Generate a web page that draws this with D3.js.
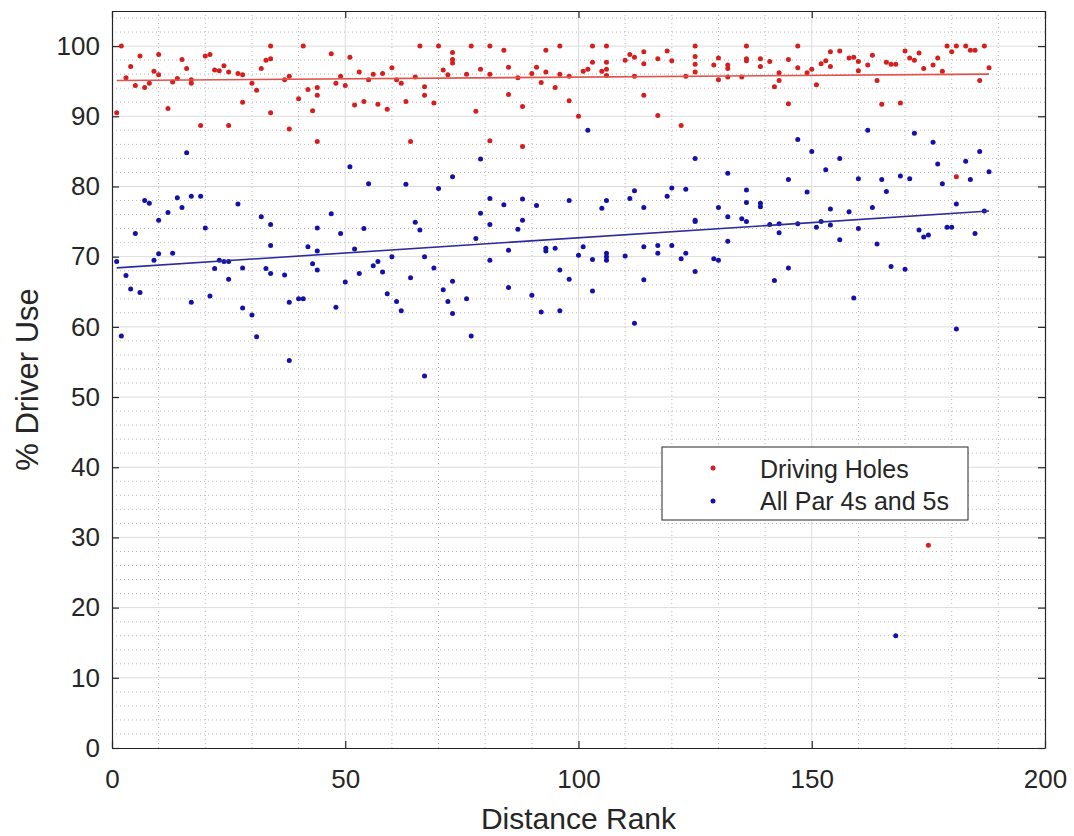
<!DOCTYPE html>
<html>
<head>
<meta charset="utf-8">
<script src="https://cdn.jsdelivr.net/npm/d3@7"></script>
<style>
  body { margin: 0; background: #fff; }
  text { font-family: "Liberation Sans", Arial, Helvetica, sans-serif; }
</style>
</head>
<body>
<div id="chart"></div>
<script>
// Driving holes: [rank, % driver use]
const drivingHoles = [
  [1,90.5],[2,100],[3,95.5],[4,97.1],[5,94.4],[6,98.6],[7,94.1],[8,94.7],[9,96.4],[10,98.8],[10,95.9],
  [12,91.1],[13,94.9],[14,95.4],[15,98.1],[16,96.8],[17,95.2],[17,94.7],[19,88.7],[20,98.6],[21,98.8],
  [22,96.6],[23,96.5],[24,97.2],[25,88.7],[25,96.3],[27,96.1],[28,95.9],[28,92.0],[30,94.7],[31,93.7],
  [32,96.8],[33,98.0],[34,98.2],[34,100],[34,90.5],[37,95.2],[38,95.7],[38,88.2],[40,92.5],[41,100],
  [42,93.8],[43,90.8],[44,94.1],[44,93.0],[44,86.4],[47,98.9],[48,94.7],[49,95.7],[50,94.4],[51,98.4],
  [52,91.6],[53,96.3],[54,92.1],[55,95.2],[56,96.0],[57,91.7],[58,96.1],[59,91.0],[60,96.9],[61,95.2],
  [62,94.7],[63,92.1],[64,86.4],[65,95.6],[66,100],[67,94.2],[67,93.0],[69,91.9],[70,100],[71,96.6],
  [72,95.9],[73,99.1],[73,98.1],[73,97.6],[76,96.0],[77,100],[78,90.7],[79,96.7],[81,100],[81,96.0],
  [81,86.5],[84,99.4],[85,97.0],[85,93.1],[87,95.5],[88,91.4],[88,85.7],[90,96.1],[91,97.0],[92,94.8],
  [93,99.4],[93,96.3],[95,94.1],[96,100],[96,96.0],[98,95.7],[98,92.2],[100,90.0],[101,96.4],[102,96.7],
  [103,100],[103,97.7],[105,96.4],[106,100],[106,97.7],[106,96.7],[106,95.8],[110,98.0],[111,98.8],
  [112,98.4],[112,95.7],[114,99.2],[114,97.5],[114,93.0],[117,98.2],[117,90.1],[119,99.3],[120,97.9],
  [122,88.7],[123,95.7],[125,100],[125,98.5],[125,97.4],[125,96.3],[129,97.3],[130,98.3],[130,95.2],
  [132,97.3],[132,96.8],[132,95.6],[135,95.6],[136,100],[136,98.2],[136,97.9],[139,98.2],[139,97.1],
  [141,97.8],[142,94.2],[143,96.2],[143,95.1],[145,91.8],[145,98.1],[147,100],[147,96.9],[149,96.2],
  [150,96.7],[151,94.5],[152,97.5],[153,97.9],[154,99.2],[154,97.1],[156,99.3],[158,98.3],[159,98.4],
  [160,97.8],[160,96.5],[162,97.3],[163,98.7],[164,95.1],[165,91.7],[166,97.7],[167,97.4],[168,97.4],
  [169,91.9],[170,99.3],[171,98.3],[172,98.0],[173,99.0],[174,96.8],[175,28.9],[176,97.3],[177,98.3],
  [178,96.4],[179,100],[180,99.2],[181,100],[181,81.4],[183,100],[184,99.4],[185,99.4],[186,95.1],
  [187,100],[188,96.9]
];

// All par 4s and 5s: [rank, % driver use]
const allPar45 = [
  [1,69.3],[2,58.7],[3,67.3],[4,65.4],[5,73.3],[6,64.9],[7,78.0],[8,77.6],[9,69.5],[10,75.2],[10,70.4],
  [12,76.3],[13,70.5],[14,78.4],[15,77.0],[16,84.8],[17,78.6],[17,63.5],[19,78.6],[20,74.1],[21,64.4],
  [22,68.3],[23,69.5],[24,69.3],[25,69.3],[25,66.8],[27,77.5],[28,68.4],[28,62.7],[30,61.7],[31,58.6],
  [32,75.7],[33,68.3],[34,74.6],[34,71.6],[34,67.6],[37,67.4],[38,63.5],[38,55.2],[40,64.0],[41,64.0],
  [42,71.4],[43,69.0],[44,74.1],[44,70.8],[44,68.1],[47,76.1],[48,62.8],[49,73.3],[50,66.4],[51,82.8],
  [52,71.1],[53,67.6],[54,74.0],[55,80.4],[56,68.7],[57,69.3],[58,67.8],[59,64.7],[60,70.0],[61,63.6],
  [62,62.3],[63,80.3],[64,67.0],[65,74.9],[66,73.8],[67,53.0],[67,70.0],[69,68.4],[70,79.7],[71,65.3],
  [72,63.6],[73,66.5],[73,61.9],[73,81.4],[76,64.0],[77,58.7],[78,72.6],[79,83.9],[79,76.2],[81,78.3],
  [81,74.6],[81,69.5],[84,77.4],[85,70.9],[85,65.6],[87,73.9],[88,78.2],[88,75.2],[90,64.5],[91,77.3],
  [92,62.1],[93,71.2],[93,70.8],[95,71.2],[96,68.1],[96,62.3],[98,78.0],[98,66.8],[100,70.2],[101,71.4],
  [102,88.0],[103,69.6],[103,65.1],[105,76.9],[106,78.0],[106,70.5],[106,70.0],[106,69.5],[110,70.1],
  [111,78.3],[112,79.4],[112,60.5],[114,77.0],[114,71.4],[114,66.7],[117,71.6],[117,70.5],[119,78.6],
  [120,79.8],[120,71.6],[122,69.7],[123,79.6],[123,70.5],[125,84.0],[125,75.2],[125,75.0],[125,67.9],
  [129,69.7],[130,69.5],[130,77.0],[132,81.9],[132,75.7],[132,72.2],[135,75.4],[136,75.0],[136,79.5],
  [136,77.7],[139,77.6],[139,77.1],[141,74.6],[142,66.6],[143,74.7],[143,73.4],[145,81.0],[145,68.4],
  [147,86.7],[147,74.7],[149,79.2],[150,85.0],[151,74.2],[152,75.0],[153,82.4],[154,76.8],[154,74.5],
  [156,84.0],[156,72.4],[158,76.4],[159,64.1],[160,81.1],[160,74.0],[162,88.0],[163,77.0],[164,71.8],
  [165,81.0],[166,79.3],[167,68.6],[168,16.0],[169,81.5],[170,68.2],[171,81.1],[172,87.6],[173,73.8],
  [174,72.8],[175,73.1],[176,86.3],[177,83.2],[178,80.4],[179,74.2],[180,74.2],[181,77.5],[181,59.7],
  [183,83.6],[184,81.0],[185,73.3],[186,85.0],[187,76.5],[188,82.1]
];

// Linear fit end points
const drivingTrend = [[1,95.1],[188,96.0]];
const allTrend = [[1,68.4],[188,76.5]];

const xTicks = [0, 50, 100, 150, 200];
const yTicks = [0, 10, 20, 30, 40, 50, 60, 70, 80, 90, 100];
const seriesNames = ["Driving Holes", "All Par 4s and 5s"];
const seriesColors = ["#d61e1e", "#1212aa"];
const trendColors = ["#e2514a", "#2b2b9c"];

const W = 1074, H = 836;
const margin = { top: 11, right: 29, bottom: 88, left: 112 };
const width = W - margin.left - margin.right;
const height = H - margin.top - margin.bottom;
const axisColor = "#262626";

const svg = d3.select("#chart").append("svg")
    .attr("width", W)
    .attr("height", H)
  .append("g")
    .attr("transform", `translate(${margin.left},${margin.top})`);

const x = d3.scaleLinear().domain([0, 200]).range([0, width]);
const y = d3.scaleLinear().domain([0, 105]).range([height, 0]);

// minor grid (dotted)
const grid = svg.append("g");
grid.selectAll(".mx").data(d3.range(10, 200, 10).filter(v => v % 50 !== 0)).enter().append("line")
    .attr("x1", d => x(d)).attr("x2", d => x(d)).attr("y1", 0).attr("y2", height)
    .attr("stroke", "#b8b8b8").attr("stroke-width", 1).attr("stroke-dasharray", "1,3");
grid.selectAll(".my").data(d3.range(2, 105, 2).filter(v => v % 10 !== 0)).enter().append("line")
    .attr("x1", 0).attr("x2", width).attr("y1", d => y(d)).attr("y2", d => y(d))
    .attr("stroke", "#b8b8b8").attr("stroke-width", 1).attr("stroke-dasharray", "1,3");
// major grid (solid)
grid.selectAll(".gx").data(xTicks.slice(1, -1)).enter().append("line")
    .attr("x1", d => x(d)).attr("x2", d => x(d)).attr("y1", 0).attr("y2", height)
    .attr("stroke", "#dcdcdc").attr("stroke-width", 1);
grid.selectAll(".gy").data(yTicks.slice(1)).enter().append("line")
    .attr("x1", 0).attr("x2", width).attr("y1", d => y(d)).attr("y2", d => y(d))
    .attr("stroke", "#dcdcdc").attr("stroke-width", 1);

// points
const allSeries = [drivingHoles, allPar45];
allSeries.forEach((s, i) => {
  svg.append("g").selectAll("circle").data(s).enter().append("circle")
      .attr("cx", d => x(d[0]))
      .attr("cy", d => y(d[1]))
      .attr("r", 2.5)
      .attr("fill", seriesColors[i]);
});

// trend lines
const line = d3.line().x(d => x(d[0])).y(d => y(d[1]));
[drivingTrend, allTrend].forEach((t, i) => {
  svg.append("path").datum(t)
      .attr("d", line)
      .attr("fill", "none")
      .attr("stroke", trendColors[i])
      .attr("stroke-width", 1.6);
});

// axes, ticks inward
function styleAxis(g) {
  g.select(".domain").attr("stroke", axisColor).attr("stroke-width", 1.2);
  g.selectAll(".tick line").attr("stroke", axisColor).attr("stroke-width", 1.2);
  g.selectAll(".tick text").attr("fill", axisColor)
      .style("font-size", "26px")
      .style("font-family", "'Liberation Sans', Arial, sans-serif");
}
svg.append("g").attr("transform", `translate(0,${height})`)
    .call(d3.axisBottom(x).tickValues(xTicks).tickSize(-7).tickSizeOuter(0).tickPadding(22))
    .call(styleAxis);
svg.append("g")
    .call(d3.axisLeft(y).tickValues(yTicks).tickSize(-7).tickSizeOuter(0).tickPadding(12))
    .call(styleAxis);
svg.append("g")
    .call(d3.axisTop(x).tickValues(xTicks).tickSize(-7).tickSizeOuter(0).tickFormat(""))
    .call(styleAxis);
svg.append("g").attr("transform", `translate(${width},0)`)
    .call(d3.axisRight(y).tickValues(yTicks).tickSize(-7).tickSizeOuter(0).tickFormat(""))
    .call(styleAxis);

// axis titles
svg.append("text")
    .attr("x", width / 2).attr("y", height + 81)
    .attr("text-anchor", "middle")
    .attr("fill", axisColor)
    .style("font-size", "30px")
    .text("Distance Rank");
svg.append("text")
    .attr("transform", `translate(${-74},${height / 2}) rotate(-90)`)
    .attr("text-anchor", "middle")
    .attr("fill", axisColor)
    .style("font-size", "31px")
    .text("% Driver Use");

// legend
const legend = svg.append("g").attr("transform", `translate(${662 - margin.left},${447 - margin.top})`);
legend.append("rect")
    .attr("width", 306).attr("height", 73)
    .attr("fill", "#fff").attr("stroke", axisColor).attr("stroke-width", 1);
seriesNames.forEach((name, i) => {
  legend.append("circle")
      .attr("cx", 51).attr("cy", 21 + i * 33)
      .attr("r", 2.5).attr("fill", seriesColors[i]);
  legend.append("text")
      .attr("x", 98).attr("y", 22 + i * 32)
      .attr("dy", "0.36em")
      .attr("fill", axisColor)
      .style("font-size", "25px")
      .text(name);
});
</script>
</body>
</html>
